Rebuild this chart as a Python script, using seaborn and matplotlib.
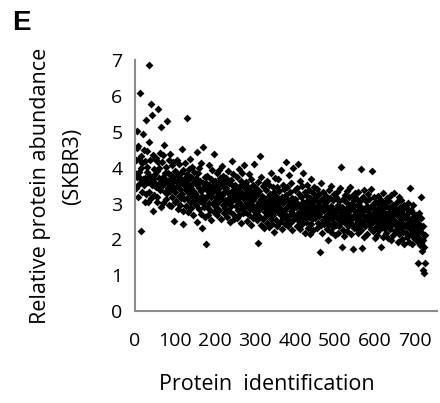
import numpy as np
import pandas as pd
import seaborn as sns
import matplotlib.pyplot as plt

# relative abundance per identified protein (index 1..725)
abundance = [
    3.85, 3.42, 4.21, 5.01, 3.74, 4.55, 3.18, 4.60, 3.55, 3.88, 4.25, 6.09, 3.70, 2.23, 3.98, 4.33, 3.31, 4.12, 4.95, 3.67, 3.60, 4.48, 3.52, 3.03, 4.18,
    3.71, 5.32, 3.26, 4.02, 3.88, 4.47, 3.59, 3.05, 4.71, 3.33, 6.85, 3.77, 4.20, 3.62, 5.77, 3.14, 5.48, 3.51, 2.79, 4.36, 3.69, 3.97, 3.24, 4.25, 3.58,
    3.82, 3.45, 4.28, 3.03, 3.91, 3.17, 4.15, 5.63, 3.72, 3.54, 3.99, 3.38, 4.40, 3.66, 5.12, 2.91, 3.49, 4.17, 3.02, 3.75, 4.34, 3.58, 4.62, 3.31, 3.86,
    3.69, 3.12, 4.03, 3.57, 3.28, 5.31, 3.86, 3.44, 4.21, 2.97, 3.66, 3.35, 4.38, 3.79, 2.94, 3.52, 4.07, 3.18, 3.73, 3.41, 4.15, 2.50, 3.62, 3.04, 3.91,
    3.33, 3.88, 3.07, 3.62, 4.22, 3.49, 2.86, 3.76, 3.21, 4.09, 3.58, 2.97, 3.41, 3.84, 3.15, 3.67, 4.51, 3.26, 2.79, 3.94, 2.43, 3.53, 3.12, 3.71, 4.14,
    3.61, 2.94, 3.38, 3.83, 3.16, 5.38, 3.52, 2.77, 3.97, 3.29, 3.68, 3.05, 4.24, 3.44, 2.88, 3.73, 3.21, 4.02, 3.57, 2.68, 3.35, 3.89, 3.11, 3.64, 2.99,
    3.28, 3.71, 2.96, 4.45, 2.48, 3.53, 3.17, 3.86, 2.84, 3.42, 3.99, 3.08, 3.63, 2.72, 3.35, 4.12, 3.22, 2.33, 3.57, 3.01, 4.58, 3.46, 2.89, 3.74, 2.62,
    3.13, 3.58, 1.87, 3.39, 2.91, 3.77, 3.24, 2.67, 3.51, 4.08, 3.02, 3.36, 2.81, 3.69, 3.19, 2.54, 3.47, 3.93, 2.98, 3.31, 3.62, 2.76, 4.37, 3.08, 3.45,
    3.62, 2.91, 3.18, 3.84, 3.37, 2.68, 3.55, 3.05, 3.93, 3.29, 2.82, 3.71, 3.46, 3.12, 2.57, 3.66, 4.05, 3.23, 2.96, 3.49, 3.78, 2.74, 3.31, 3.58, 3.09,
    2.87, 3.44, 3.71, 3.11, 2.63, 3.36, 3.92, 3.02, 3.27, 2.79, 3.57, 3.19, 2.48, 3.65, 3.33, 2.94, 4.18, 3.08, 3.49, 2.71, 3.83, 3.24, 2.56, 3.41, 3.15,
    3.52, 2.93, 3.27, 2.61, 3.74, 3.06, 3.39, 2.82, 3.96, 3.17, 2.69, 3.48, 3.01, 3.63, 2.45, 3.31, 3.86, 2.88, 3.22, 3.55, 2.74, 3.12, 4.08, 2.97, 3.43,
    2.76, 3.29, 3.61, 2.92, 3.14, 2.51, 3.47, 3.02, 2.68, 3.82, 3.21, 2.84, 3.38, 2.39, 3.07, 3.69, 2.97, 3.25, 2.61, 3.52, 3.11, 2.79, 4.11, 3.34, 2.88,
    3.19, 2.72, 3.43, 2.96, 2.54, 3.27, 3.61, 1.90, 3.05, 2.83, 3.36, 4.32, 2.63, 3.12, 2.41, 3.74, 2.89, 3.21, 2.58, 3.48, 2.99, 2.31, 3.15, 3.57, 2.77,
    3.08, 2.66, 3.39, 2.85, 3.62, 2.47, 3.17, 2.93, 2.34, 3.51, 3.01, 2.72, 3.26, 2.58, 3.84, 2.81, 3.13, 2.44, 3.45, 2.97, 2.69, 3.33, 2.21, 3.04, 3.71,
    2.83, 3.21, 2.55, 3.46, 2.97, 2.38, 3.12, 3.68, 2.74, 2.91, 3.35, 2.49, 3.06, 2.67, 3.93, 2.86, 2.29, 3.18, 3.52, 2.61, 3.01, 2.78, 3.41, 2.43, 3.09,
    2.71, 4.15, 3.24, 2.58, 3.47, 2.89, 2.36, 3.11, 3.79, 2.64, 2.95, 3.31, 2.47, 3.02, 2.79, 3.58, 2.26, 3.16, 2.87, 3.99, 2.53, 3.07, 2.68, 3.38, 2.92,
    3.13, 2.61, 2.89, 3.42, 2.37, 3.01, 4.11, 2.74, 3.27, 2.52, 2.95, 3.64, 2.28, 2.83, 3.19, 2.66, 3.48, 2.44, 3.05, 2.77, 3.86, 2.58, 2.91, 3.33, 2.19,
    2.86, 3.23, 2.49, 3.08, 2.68, 3.51, 2.33, 2.97, 2.62, 3.37, 2.81, 2.15, 3.14, 2.73, 3.69, 2.42, 3.02, 2.57, 3.28, 2.91, 2.26, 3.46, 2.64, 3.11, 2.78,
    2.59, 3.17, 2.83, 2.31, 3.41, 2.72, 2.96, 2.47, 3.26, 2.65, 3.04, 1.66, 2.88, 2.39, 3.57, 2.76, 2.18, 3.12, 2.54, 2.93, 3.33, 2.44, 2.81, 3.08, 2.63,
    2.97, 2.52, 3.21, 2.69, 2.28, 3.06, 2.84, 1.98, 3.38, 2.61, 2.43, 3.15, 2.76, 2.21, 2.93, 3.49, 2.57, 2.86, 2.34, 3.11, 2.68, 3.27, 2.47, 2.79, 2.12,
    2.74, 3.19, 2.41, 2.87, 2.63, 3.32, 2.18, 2.96, 2.55, 3.08, 2.36, 2.79, 3.44, 2.49, 4.02, 2.67, 1.80, 2.91, 2.27, 3.13, 2.58, 2.82, 2.09, 3.24, 2.71,
    2.46, 3.03, 2.77, 2.24, 3.36, 2.62, 2.89, 2.38, 3.17, 2.69, 2.51, 3.47, 2.83, 2.14, 2.98, 2.56, 3.22, 2.43, 1.74, 2.92, 2.66, 3.09, 2.31, 2.78, 3.28,
    2.59, 2.33, 3.14, 2.72, 2.47, 2.96, 2.19, 3.31, 2.64, 2.81, 2.38, 3.06, 2.53, 2.91, 3.97, 2.27, 2.76, 1.75, 3.19, 2.44, 2.68, 2.06, 3.38, 2.57, 2.85,
    2.37, 3.08, 2.63, 2.81, 2.16, 2.94, 2.52, 3.26, 2.71, 2.41, 3.13, 2.58, 2.88, 2.29, 3.41, 2.66, 2.47, 3.91, 2.99, 2.22, 2.74, 3.17, 2.55, 2.03, 2.86,
    2.68, 2.34, 3.04, 2.57, 2.79, 2.13, 3.22, 2.46, 2.91, 2.61, 2.25, 2.97, 2.51, 1.80, 3.11, 2.72, 2.38, 2.86, 2.07, 3.29, 2.54, 2.77, 2.31, 3.02, 2.45,
    2.62, 2.19, 2.93, 2.48, 3.16, 2.36, 2.74, 2.05, 2.87, 2.53, 3.07, 2.29, 2.67, 2.41, 3.24, 1.97, 2.81, 2.57, 2.13, 2.96, 2.44, 3.30, 2.71, 2.24, 2.88,
    2.51, 2.83, 2.26, 2.69, 3.04, 2.38, 1.94, 2.77, 2.47, 3.18, 2.15, 2.63, 2.91, 2.33, 2.56, 3.09, 2.02, 2.74, 2.42, 2.86, 2.21, 2.97, 1.88, 2.59, 2.37,
    2.64, 2.18, 2.89, 2.43, 2.71, 2.07, 3.02, 2.35, 2.56, 1.93, 2.79, 2.28, 3.43, 2.49, 2.14, 2.83, 2.61, 1.86, 2.95, 2.39, 2.22, 2.72, 2.05, 2.58, 2.31,
    2.47, 2.12, 2.68, 1.96, 2.39, 2.58, 2.21, 1.35, 2.74, 2.03, 2.44, 1.84, 2.29, 2.61, 3.18, 1.91, 2.17, 1.67, 2.36, 1.15, 1.99, 1.05, 1.79, 2.11, 1.35,
]
protein_id = list(range(1, len(abundance) + 1))

x_ticks = [0, 100, 200, 300, 400, 500, 600, 700]
y_ticks = [0, 1, 2, 3, 4, 5, 6, 7]

df = pd.DataFrame({'id': protein_id, 'abundance': abundance})

sns.set_style('white')
plt.rcParams['font.family'] = ['Open Sans', 'DejaVu Sans']
plt.rcParams['text.color'] = 'black'

fig = plt.figure(figsize=(4.4, 4.03), dpi=100)
ax = fig.add_axes([0.307, 0.228, 0.686, 0.623])

sns.scatterplot(data=df, x='id', y='abundance', marker='D', color='black',
                s=16, linewidth=0, ax=ax, legend=False)

grey = '#8c8c8c'
ax.set_xlim(0, 755)
ax.set_ylim(0, 7)
ax.set_xticks(x_ticks)
ax.set_yticks(y_ticks)
ax.tick_params(axis='both', labelsize=14, colors=grey, labelcolor='black',
               length=5, width=1.3, direction='out', pad=4)
ax.tick_params(axis='x', pad=10)
for side in ['top', 'right']:
    ax.spines[side].set_visible(False)
for side in ['left', 'bottom']:
    ax.spines[side].set_color(grey)
    ax.spines[side].set_linewidth(1.5)
ax.set_xlabel('')
ax.set_ylabel('')

fig.text(0.606, 0.047, 'Protein  identification', ha='center', va='center', fontsize=15.5)
fig.text(0.091, 0.538, 'Relative protein abundance', rotation=90,
         ha='center', va='center', fontsize=15.5)
fig.text(0.166, 0.586, '(SKBR3)', rotation=90, ha='center', va='center', fontsize=15.5)
fig.text(0.027, 0.943, 'E', fontsize=20, fontweight='bold',
         family=['Liberation Sans', 'DejaVu Sans'], ha='left', va='center')

plt.savefig('out.png', dpi=100)
